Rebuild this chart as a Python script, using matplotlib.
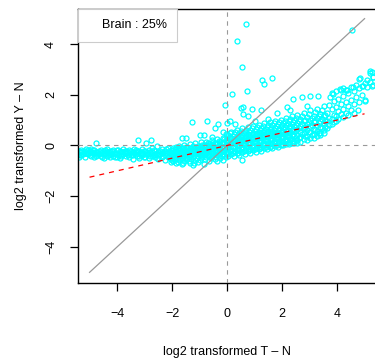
import matplotlib
matplotlib.use("Agg")
import matplotlib.pyplot as plt
from matplotlib.patches import Rectangle

plt.rcParams['font.family'] = ['Liberation Sans', 'DejaVu Sans']

# ---------------- data ----------------
# dense band, left part: x position -> several y values
left_x = [-5.40, -5.30, -5.18, -5.06, -4.95, -4.83, -4.72, -4.60, -4.48, -4.37,
          -4.25, -4.13, -4.02, -3.90, -3.78, -3.67, -3.55, -3.43, -3.32, -3.20,
          -3.08, -2.97, -2.85, -2.73, -2.62, -2.50, -2.38, -2.27, -2.15, -2.04]
left_y = [[-0.20, -0.33, -0.44], [-0.27, -0.16, -0.39], [-0.31, -0.45, -0.22],
          [-0.18, -0.35, -0.28], [-0.41, -0.25, -0.12], [-0.30, -0.19, -0.47],
          [-0.24, -0.37, -0.31], [-0.16, -0.42, -0.28], [-0.33, -0.21, -0.50],
          [-0.26, -0.40, -0.14], [-0.35, -0.23, -0.46], [-0.19, -0.30, -0.41],
          [-0.28, -0.44, -0.17], [-0.36, -0.22, -0.48], [-0.25, -0.33, -0.15],
          [-0.42, -0.29, -0.20], [-0.31, -0.18, -0.45], [-0.24, -0.38, -0.52],
          [-0.33, -0.16, -0.27], [-0.40, -0.22, -0.49], [-0.29, -0.36, -0.13],
          [-0.21, -0.44, -0.32], [-0.35, -0.18, -0.50], [-0.27, -0.41, -0.10],
          [-0.33, -0.20, -0.47], [-0.24, -0.38, -0.55], [-0.30, -0.12, -0.44],
          [-0.36, -0.21, -0.58], [-0.27, -0.45, -0.08], [-0.33, -0.18, -0.52, -0.66]]
left2_x = [-5.35, -5.24, -5.12, -5.00, -4.89, -4.77, -4.66, -4.54, -4.42, -4.31,
           -4.19, -4.08, -3.96, -3.84, -3.72, -3.61, -3.49, -3.37, -3.26, -3.14,
           -3.02, -2.91, -2.79, -2.67, -2.56, -2.44, -2.32, -2.21, -2.09]
left2_y = [[-0.26, -0.38], [-0.21, -0.34], [-0.29, -0.15], [-0.37, -0.23],
           [-0.19, -0.31], [-0.27, -0.40], [-0.35, -0.20], [-0.24, -0.45],
           [-0.30, -0.17], [-0.38, -0.26], [-0.22, -0.33], [-0.29, -0.47],
           [-0.36, -0.19], [-0.25, -0.42], [-0.31, -0.20], [-0.39, -0.27],
           [-0.23, -0.36], [-0.30, -0.15], [-0.41, -0.22], [-0.27, -0.35],
           [-0.20, -0.44], [-0.33, -0.25], [-0.26, -0.40], [-0.37, -0.18],
           [-0.29, -0.51], [-0.22, -0.35], [-0.40, -0.27], [-0.31, -0.15],
           [-0.24, -0.49]]

mid_x = [-1.95, -1.85, -1.75, -1.65, -1.55, -1.45, -1.35, -1.25, -1.15, -1.05,
         -0.95, -0.85, -0.75, -0.65, -0.55, -0.45, -0.35, -0.25, -0.15, -0.05]
mid_y = [[-0.10, -0.25, -0.38, -0.50, -0.62], [-0.05, -0.20, -0.33, -0.45, -0.70],
         [-0.15, -0.28, -0.40, -0.02, -0.58], [-0.08, -0.22, -0.35, -0.48, -0.74],
         [0.00, -0.17, -0.30, -0.43, -0.62], [-0.12, -0.26, -0.38, -0.05, -0.55],
         [0.05, -0.10, -0.23, -0.36, -0.68], [-0.03, -0.18, -0.31, -0.47, -0.78],
         [0.08, -0.08, -0.21, -0.34, -0.58], [-0.01, -0.15, -0.28, -0.42, -0.66],
         [0.12, -0.04, -0.19, -0.32, -0.50], [0.03, -0.12, -0.25, -0.39, -0.72],
         [0.15, 0.00, -0.16, -0.29, -0.45], [0.07, -0.08, -0.22, -0.36, -0.60],
         [0.20, 0.04, -0.12, -0.26, -0.41], [0.10, -0.05, -0.18, -0.33, -0.55],
         [0.25, 0.08, -0.08, -0.23, -0.38, -0.62], [0.14, -0.02, -0.15, -0.30, -0.48],
         [0.30, 0.12, -0.05, -0.20, -0.35, -0.58], [0.20, 0.03, -0.12, -0.27, -0.44, 0.45]]
mid2_x = [-2.00, -1.90, -1.80, -1.70, -1.60, -1.50, -1.40, -1.30, -1.20, -1.10,
          -1.00, -0.90, -0.80, -0.70, -0.60, -0.50, -0.40, -0.30, -0.20, -0.10]
mid2_y = [[-0.18, -0.31, -0.44, -0.58], [-0.14, -0.28, -0.40, -0.52],
          [-0.10, -0.24, -0.36, -0.64], [-0.16, -0.30, -0.43, -0.55],
          [-0.11, -0.25, -0.38, -0.68], [-0.06, -0.20, -0.33, -0.50],
          [-0.16, -0.30, -0.45, -0.60], [-0.08, -0.22, -0.38, -0.55],
          [-0.12, -0.27, -0.40, -0.70], [-0.04, -0.18, -0.31, -0.50],
          [-0.09, -0.23, -0.37, -0.58], [0.02, -0.14, -0.27, -0.44],
          [-0.06, -0.20, -0.34, -0.55], [0.08, -0.05, -0.18, -0.40],
          [0.00, -0.15, -0.30, -0.50], [0.14, -0.02, -0.14, -0.36],
          [0.05, -0.11, -0.26, -0.46], [0.18, 0.02, -0.12, -0.40],
          [0.08, -0.08, -0.22, -0.42], [0.25, 0.10, -0.05, -0.35]]

right_x = [0.05, 0.15, 0.25, 0.35, 0.45, 0.55, 0.65, 0.75, 0.85, 0.95,
           1.05, 1.15, 1.25, 1.35, 1.45, 1.55, 1.65, 1.75, 1.85, 1.95,
           2.05, 2.15, 2.25, 2.35, 2.45]
right_y = [[0.40, 0.22, 0.06, -0.10, -0.26, -0.42], [0.30, 0.14, -0.02, -0.18, -0.35, 0.55],
           [0.45, 0.27, 0.10, -0.06, -0.22, -0.40], [0.36, 0.18, 0.02, -0.14, -0.30, 0.62],
           [0.50, 0.31, 0.13, -0.03, -0.19, -0.36], [0.40, 0.22, 0.06, -0.10, -0.27, 0.68],
           [0.55, 0.35, 0.17, 0.00, -0.16, -0.33], [0.45, 0.27, 0.10, -0.06, -0.22, 0.72],
           [0.60, 0.40, 0.21, 0.04, -0.12, -0.30], [0.50, 0.31, 0.14, -0.02, -0.18, 0.78],
           [0.64, 0.44, 0.25, 0.08, -0.08, -0.25], [0.55, 0.36, 0.18, 0.02, -0.14, 0.82],
           [0.70, 0.48, 0.29, 0.12, -0.04, -0.20], [0.60, 0.40, 0.22, 0.06, -0.10, 0.88],
           [0.74, 0.53, 0.34, 0.16, 0.00, -0.15], [0.64, 0.44, 0.26, 0.10, -0.06, 0.92],
           [0.80, 0.58, 0.38, 0.20, 0.04, -0.10], [0.70, 0.49, 0.30, 0.14, -0.02, 0.97],
           [0.85, 0.62, 0.42, 0.24, 0.08, -0.05], [0.75, 0.54, 0.35, 0.18, 0.02, 1.02],
           [0.90, 0.67, 0.47, 0.28, 0.12, 0.00], [0.80, 0.58, 0.39, 0.22, 0.06, 1.08],
           [0.95, 0.72, 0.51, 0.32, 0.15, 0.04], [0.86, 0.63, 0.43, 0.26, 0.10, 1.15],
           [1.00, 0.77, 0.56, 0.37, 0.19, 0.08]]
right2_x = [0.00, 0.10, 0.20, 0.30, 0.40, 0.50, 0.60, 0.70, 0.80, 0.90, 1.00, 1.10, 1.20,
            1.30, 1.40, 1.50, 1.60, 1.70, 1.80, 1.90, 2.00, 2.10, 2.20, 2.30, 2.40, 2.50]
right2_y = [[0.32, 0.14, -0.04, -0.32], [0.48, 0.30, 0.10, -0.20], [0.36, 0.18, -0.06, -0.30],
            [0.52, 0.26, 0.08, -0.22], [0.42, 0.22, 0.05, -0.28], [0.58, 0.34, 0.16, -0.14],
            [0.48, 0.28, 0.10, -0.20], [0.62, 0.40, 0.20, -0.10], [0.52, 0.32, 0.12, -0.18],
            [0.68, 0.44, 0.24, -0.06], [0.56, 0.36, 0.16, -0.14], [0.72, 0.48, 0.28, -0.02],
            [0.62, 0.40, 0.20, -0.10], [0.78, 0.54, 0.32, 0.02], [0.66, 0.44, 0.25, -0.06],
            [0.82, 0.58, 0.36, 0.06], [0.70, 0.48, 0.28, -0.02], [0.88, 0.62, 0.40, 0.10],
            [0.76, 0.52, 0.32, 0.02], [0.92, 0.66, 0.44, 0.14], [0.80, 0.56, 0.36, 0.06],
            [0.98, 0.72, 0.48, 0.18], [0.86, 0.62, 0.40, 0.10], [1.04, 0.78, 0.54, 0.22],
            [0.92, 0.66, 0.46, 0.14], [1.10, 0.82, 0.58, 0.28]]

upper_x = [2.55, 2.67, 2.79, 2.91, 3.03, 3.15, 3.27, 3.39, 3.51, 3.62, 3.70, 3.80,
           3.88, 3.96, 4.05, 4.14, 4.22, 4.31, 4.40, 4.50, 4.60, 4.70, 4.80, 4.90,
           5.00, 5.10, 5.20, 5.30]
upper_y = [[1.20, 0.90, 0.65, 0.42, 0.22, 0.10], [1.05, 0.78, 0.55, 0.33, 0.15],
           [1.30, 0.95, 0.70, 0.48, 0.26], [1.12, 0.85, 0.60, 0.38, 0.20],
           [1.40, 1.00, 0.76, 0.52, 0.30], [1.18, 0.92, 0.66, 0.44, 0.28],
           [1.45, 1.08, 0.82, 0.57, 0.38], [1.25, 0.98, 0.72, 0.50, 0.42],
           [1.55, 1.15, 0.88, 0.62, 0.48], [1.30, 0.95, 0.70],
           [1.60, 1.10, 0.80], [1.42, 1.05, 0.85, 2.05], [1.75, 1.22, 0.92],
           [1.50, 1.15, 0.98, 2.15], [1.85, 1.35, 1.05], [1.62, 1.25, 2.20],
           [1.95, 1.45, 1.12, 2.25], [1.70, 1.30, 2.18], [2.05, 1.55, 1.20],
           [1.80, 1.40, 2.30], [2.15, 1.62, 1.28], [1.90, 2.40],
           [2.25, 1.70, 2.62], [2.00, 2.35], [2.45, 1.80], [2.60, 2.30],
           [2.85, 2.50, 2.95], [2.70, 2.40]]
upper2_x = [2.61, 2.73, 2.85, 2.97, 3.09, 3.21, 3.33, 3.45, 3.57]
upper2_y = [[0.98, 0.70, 0.30], [1.18, 0.86, 0.45], [1.02, 0.74, 0.36],
            [1.25, 0.90, 0.55], [1.08, 0.80, 0.40], [1.32, 0.98, 0.62],
            [1.15, 0.88, 0.50], [1.38, 1.05, 0.68], [1.22, 0.96, 0.72]]

# scattered points away from the band
out_x = [-4.75, -3.23, -2.95, -2.77, -2.54, -1.65, -1.50, -1.28, -0.98, -0.85,
         -0.74, -0.55, -0.44, -0.32, -0.15, -0.07, 0.00, 0.19, 0.35, 0.53,
         0.68, 0.72, 1.27, 1.36, 1.63, 4.53, 0.50, 0.57, 0.92, 1.23,
         0.58, 0.77, 2.19, 2.39, 2.72, 3.02, 3.32, 2.90, 2.29, 3.38,
         3.75, 3.87, 4.10, 4.35, 4.59, 4.84, 4.96, 5.02, 4.77, 5.26,
         5.32, 5.26, 0.56, 1.00, 1.50, 1.80, 0.30, 0.10]
out_y = [0.09, 0.23, 0.10, 0.20, -0.03, 0.30, 0.28, 0.94, 0.43, 0.43,
         0.98, 0.35, 0.68, 0.86, 0.52, 1.61, 0.88, 2.03, 4.13, 3.08,
         4.79, 2.14, 2.60, 2.43, 2.67, 4.57, 1.48, 1.51, 1.44, 1.38,
         1.26, 1.18, 1.51, 1.84, 1.90, 1.94, 1.97, 1.57, 1.40, 1.25,
         1.90, 2.03, 2.23, 2.17, 2.30, 2.67, 2.36, 1.77, 1.38, 2.89,
         2.69, 2.36, -0.59, 0.95, 1.05, 1.30, 0.85, 0.95]

diag_x = [-5, 5]          # identity line
fit_x = [-5, 5]           # fitted line
fit_slope = 0.25
legend_text = "Brain : 25%"
xticks = [-4, -2, 0, 2, 4]
yticks = [-4, -2, 0, 2, 4]

# ---------------- plotting ----------------
px, py = [], []
for xs, ys in ((left_x, left_y), (left2_x, left2_y), (mid_x, mid_y), (mid2_x, mid2_y),
               (right_x, right_y), (right2_x, right2_y), (upper_x, upper_y),
               (upper2_x, upper2_y)):
    for x, yl in zip(xs, ys):
        for y in yl:
            px.append(x)
            py.append(y)
px += out_x
py += out_y

fig = plt.figure(figsize=(3.75, 3.58), dpi=100)
ax = fig.add_axes([78/375, 1 - 283/358, 1 - 78/375, (283 - 8.5)/358])

ax.plot(px, py, 'o', ls='none', mfc='none', mec='#00FFFF', ms=3.6, mew=0.9, zorder=2)

ax.axhline(0, color='#999999', lw=0.8, ls=(0, (4, 4)), zorder=3)
ax.axvline(0, color='#999999', lw=0.8, ls=(0, (4, 4)), zorder=3)
ax.plot(diag_x, diag_x, color='#999999', lw=0.9, zorder=3)
ax.plot(fit_x, [fit_slope * v for v in fit_x], color='red', lw=0.9,
        ls=(0, (4, 4)), zorder=3)

ax.set_xlim(-5.42, 5.38)
ax.set_ylim(-5.42, 5.4)
ax.set_xticks(xticks)
ax.set_yticks(yticks)
ax.set_xticklabels(['\u22124', '\u22122', '0', '2', '4'])
ax.set_yticklabels(['\u22124', '\u22122', '0', '2', '4'], rotation=90, va='center')
ax.tick_params(direction='out', length=6, width=0.9, labelsize=9)
ax.tick_params(axis='x', pad=12)
ax.tick_params(axis='y', pad=9)
for s in ('left', 'bottom', 'top'):
    ax.spines[s].set_linewidth(1.0)
ax.spines['right'].set_visible(False)

ax.set_xlabel('log2 transformed T \u2013 N', fontsize=9, labelpad=19)
ax.set_ylabel('log2 transformed Y \u2013 N', fontsize=9, labelpad=13)

# legend box (top-left)
box = Rectangle((0.0, 1.0), (177 - 78)/297, -(41.5 - 8.5)/274.5, transform=ax.transAxes,
                facecolor='white', edgecolor='#cccccc', lw=0.8, zorder=5, clip_on=False)
ax.add_patch(box)
ax.text((135 - 78)/297, 1 - (25.5 - 8.5)/274.5, legend_text, transform=ax.transAxes,
        ha='center', va='center', fontsize=9, zorder=6)

fig.savefig('out.png', dpi=100)
